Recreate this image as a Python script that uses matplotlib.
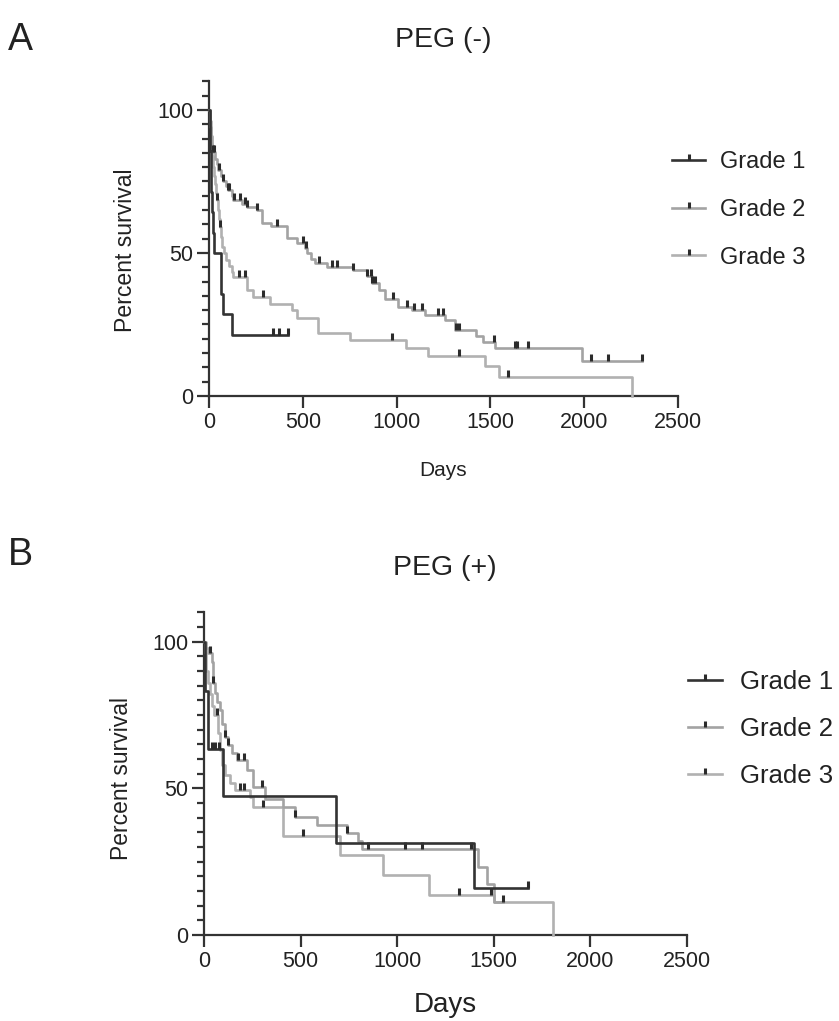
import numpy as np
import matplotlib
matplotlib.use("Agg")
import matplotlib.pyplot as plt
from matplotlib.lines import Line2D

plt.rcParams['font.family'] = ['Liberation Sans', 'DejaVu Sans']

# ---------------- PEG (-) ----------------
# step times (days) and percent survival after each step, censor times
a_g1_t = [0, 4, 7, 10, 12, 18, 22, 27, 62, 76, 121]
a_g1_s = [100, 92.9, 85.7, 78.6, 71.4, 64.3, 57.1, 50, 35.7, 28.6, 21.4]
a_g1_c = [343, 373, 423]

a_g2_t = [0, 3, 6, 10, 14, 18, 23, 32, 42, 50, 62, 76, 90, 102, 120, 129, 175,
          201, 254, 281, 330, 414, 470, 510, 521, 545, 565, 627, 766, 843, 871,
          905, 938, 1009, 1080, 1151, 1258, 1311, 1425, 1462, 1525, 1987]
a_g2_s = [100, 97, 94, 91, 89, 87, 85.4, 83, 81, 79, 77, 75, 73.5, 72, 70, 68.5,
          67.3, 66.2, 65, 60.4, 59.5, 55.1, 53.5, 51.6, 50, 48, 46.4, 45.2, 44,
          42, 39.4, 37, 33.9, 31.2, 30, 28.3, 26.6, 23, 21, 19, 16.7, 12.3]
a_g2_c = [23, 27, 54, 76, 102, 108, 133, 165, 192, 201, 254, 364, 499, 517,
          586, 658, 680, 766, 843, 866, 871, 885, 983, 1057, 1094, 1137, 1219,
          1246, 1314, 1330, 1519, 1631, 1643, 1702, 2035, 2125, 2310]

a_g3_t = [0, 5, 9, 13, 17, 21, 26, 32, 38, 44, 50, 55, 59, 63, 68, 80, 88, 105,
          120, 126, 201, 236, 325, 445, 470, 583, 752, 1050, 1169, 1471, 1546,
          2253]
a_g3_s = [100, 96, 92, 88, 84, 80, 77, 74, 71, 68.5, 65, 62, 59, 55.5, 52, 50,
          47.5, 45.5, 43.5, 41.5, 37, 34.7, 32.3, 30, 27.2, 21.9, 19.6, 16.7,
          14, 10.6, 6.8, 0]
a_g3_c = [44, 59, 161, 194, 286, 974, 1334, 1596]

# ---------------- PEG (+) ----------------
b_g1_t = [0, 5, 22, 100, 682, 1398]
b_g1_s = [100, 83.3, 63.3, 47.4, 31.5, 15.9]
b_g1_c = [40, 57, 80, 1679]

b_g2_t = [0, 8, 22, 40, 48, 57, 66, 83, 95, 109, 126, 143, 169, 221, 255, 316,
          411, 471, 583, 738, 799, 816, 1420, 1466, 1502]
b_g2_s = [100, 98, 96, 93, 85.8, 82.5, 79.5, 76.7, 72, 67.6, 64.8, 62, 59.7,
          56.3, 50.6, 46.5, 43.5, 40.3, 37.5, 34.7, 32, 29.2, 23.3, 17.4, 11.4]
b_g2_c = [31, 48, 109, 126, 178, 209, 298, 471, 742, 851, 1040, 1127, 1380,
          1546]

b_g3_t = [0, 5, 12, 20, 30, 40, 50, 75, 85, 95, 109, 135, 160, 238, 255, 411,
          704, 925, 1166, 1503, 1805]
b_g3_s = [100, 96, 90, 86, 82, 78, 75, 69, 63, 58, 54.5, 51.7, 49.4, 47.2,
          43.7, 33.75, 27.3, 20.5, 13.6, 11.4, 0]
b_g3_c = [66, 186, 209, 304, 511, 1321, 1488]

grades = ['Grade 1', 'Grade 2', 'Grade 3']
colors = ['#333333', '#a3a3a3', '#b1b1b1']
tick_col = '#2b2b2b'
TICK = [(0, 0), (0, 1)]


def surv_at(t, s, x):
    i = np.searchsorted(t, x, side='right') - 1
    return s[max(i, 0)]


def draw_km(ax, t, s, cens, color, z):
    t = list(t)
    s = list(s)
    end = max(cens) if cens else t[-1]
    if end > t[-1]:
        t.append(end)
        s.append(s[-1])
    ax.step(t, s, where='post', color=color, lw=1.9, zorder=z, clip_on=False)
    cy = [surv_at(t, s, c) for c in cens]
    ax.plot(cens, cy, ls='none', marker=TICK, ms=10, mew=2.2,
            color=tick_col, zorder=z + 0.5, clip_on=False)


def style_axes(ax):
    for sp in ['top', 'right']:
        ax.spines[sp].set_visible(False)
    for sp in ['left', 'bottom']:
        ax.spines[sp].set_linewidth(1.6)
        ax.spines[sp].set_color('#333333')
    ax.set_xlim(0, 2500)
    ax.set_ylim(0, 110)
    ax.set_xticks([0, 500, 1000, 1500, 2000, 2500])
    ax.set_yticks([0, 50, 100])
    ax.set_yticks(np.arange(0, 111, 5), minor=True)
    ax.tick_params(axis='both', which='major', length=8.5, width=1.6,
                   color='#333333', labelsize=15.5, labelcolor='#222222', pad=3)
    ax.tick_params(axis='y', which='minor', length=4.8, width=1.6,
                   color='#333333')
    ax.tick_params(axis='x', which='minor', length=0)


W, H = 839, 1021
fig = plt.figure(figsize=(W / 100, H / 100), dpi=100)


def px_axes(x0, x1, y_top, y_bot):
    return fig.add_axes([x0 / W, 1 - y_bot / H, (x1 - x0) / W, (y_bot - y_top) / H])


axA = px_axes(209, 678, 396 - 110 * 2.86, 396)
axB = px_axes(204, 687, 935 - 110 * 2.933, 935)

for ax, data in [(axA, [(a_g1_t, a_g1_s, a_g1_c), (a_g2_t, a_g2_s, a_g2_c),
                        (a_g3_t, a_g3_s, a_g3_c)]),
                 (axB, [(b_g1_t, b_g1_s, b_g1_c), (b_g2_t, b_g2_s, b_g2_c),
                        (b_g3_t, b_g3_s, b_g3_c)])]:
    style_axes(ax)
    zs = [5, 4, 3]
    for (t, s, c), col, z in zip(data, colors, zs):
        draw_km(ax, t, s, c, col, z)

handles = [Line2D([0], [0], color=c, lw=1.9, marker=TICK, ms=9, mew=2.2,
                  mec=tick_col) for c in colors]

fig.legend(handles, grades, loc='upper left', bbox_to_anchor=(651 / W, 1 - 130 / H),
           frameon=False, fontsize=17, numpoints=1, handlelength=1.4,
           handletextpad=0.64, labelspacing=1.09, labelcolor='#222222')
fig.legend(handles, grades, loc='upper left', bbox_to_anchor=(665 / W, 1 - 647 / H),
           frameon=False, fontsize=18.5, numpoints=1, handlelength=1.32,
           handletextpad=0.7, labelspacing=0.89, labelcolor='#222222')

# titles, panel letters and axis labels
fig.text(20 / W, 1 - 40 / H, 'A', fontsize=27, ha='center', va='center', color='#222222')
fig.text(20 / W, 1 - 555 / H, 'B', fontsize=27, ha='center', va='center', color='#222222')
fig.text(443 / W, 1 - 40 / H, 'PEG (-)', fontsize=20.5, ha='center', va='center', color='#222222')
fig.text(445 / W, 1 - 568 / H, 'PEG (+)', fontsize=20.5, ha='center', va='center', color='#222222')
fig.text(125 / W, 1 - 250 / H, 'Percent survival', fontsize=16.6, rotation=90,
         ha='center', va='center', color='#222222')
fig.text(121 / W, 1 - 778 / H, 'Percent survival', fontsize=16.5, rotation=90,
         ha='center', va='center', color='#222222')
fig.text(443 / W, 1 - 470 / H, 'Days', fontsize=15, ha='center', va='center', color='#222222')
fig.text(445 / W, 1 - 1005 / H, 'Days', fontsize=20, ha='center', va='center', color='#222222')

fig.savefig('out.png', dpi=100)
